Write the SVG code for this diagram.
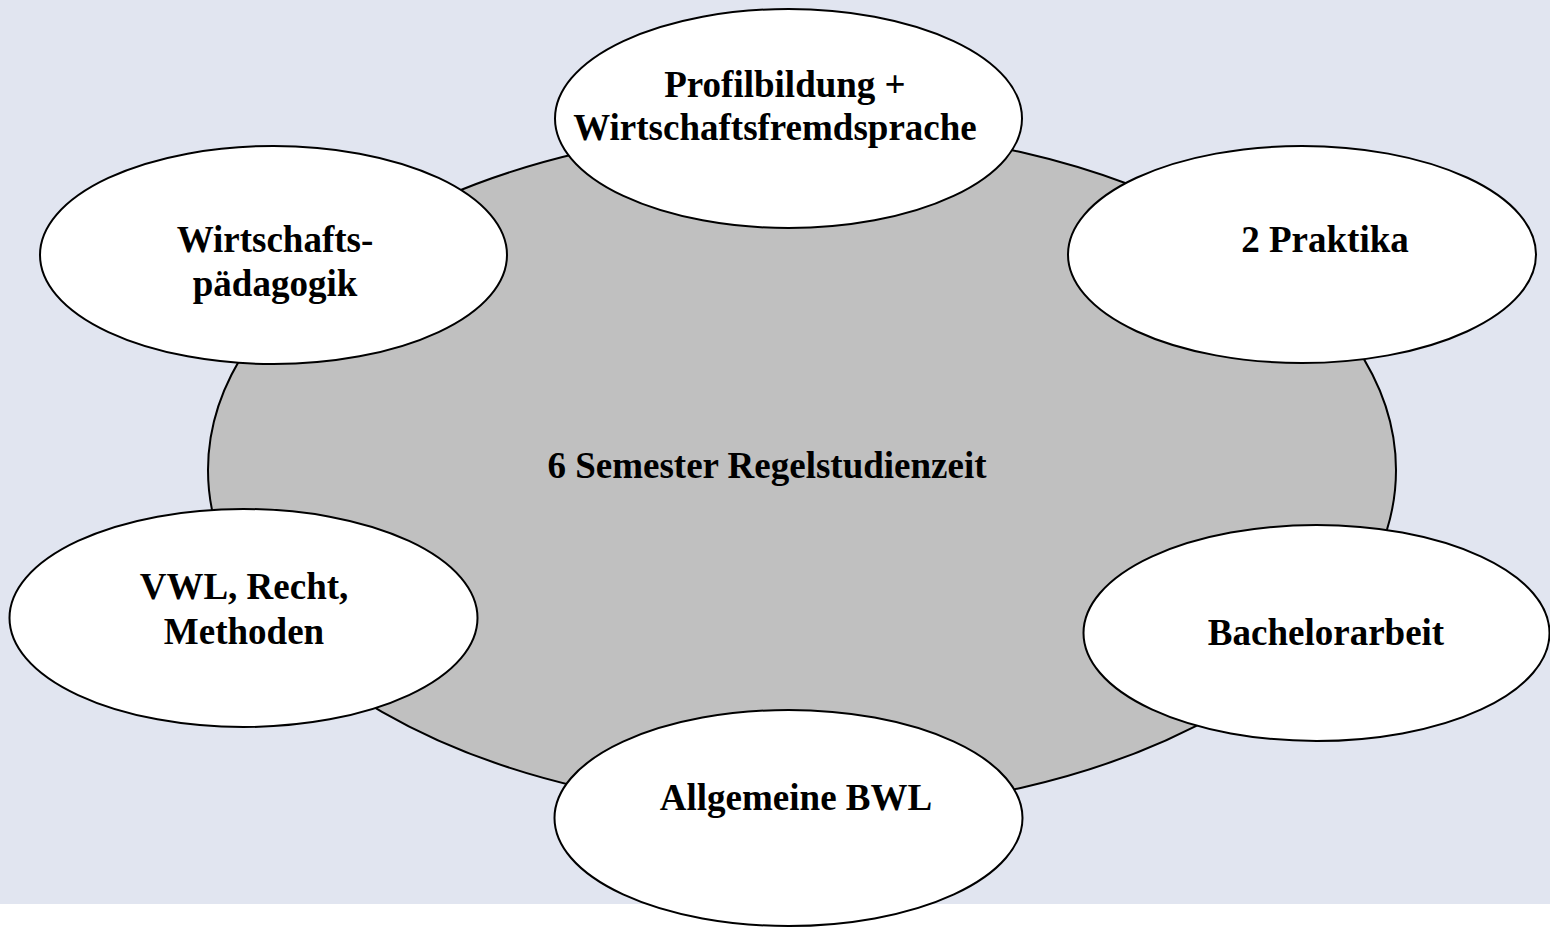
<svg xmlns="http://www.w3.org/2000/svg" width="1550" height="927" viewBox="0 0 1550 927">
<style>
.bg{fill:#e1e5f0}
.core{fill:#c0c0c0;stroke:#000;stroke-width:2}
.sat{fill:#fff;stroke:#000;stroke-width:2}
.t{font-family:"Liberation Serif","Times New Roman",serif;font-weight:bold;font-size:37px;fill:#000;text-anchor:middle}
</style>
<rect x="0" y="0" width="1550" height="927" fill="#fff"/>
<rect class="bg" x="0" y="0" width="1550" height="904"/>
<g id="connectors"></g>
<g id="core">
<ellipse class="core" cx="802" cy="470" rx="594" ry="342"/>
<text class="t" x="767" y="478">6 Semester Regelstudienzeit</text>
</g>
<g id="profil">
<ellipse class="sat" cx="788.5" cy="118.5" rx="233.5" ry="109.5"/>
<text class="t" x="785" y="97">Profilbildung +</text>
<text class="t" x="775" y="140">Wirtschaftsfremdsprache</text>
</g>
<g id="wipaed">
<ellipse class="sat" cx="273.5" cy="255" rx="233.5" ry="109"/>
<text class="t" x="275" y="252">Wirtschafts-</text>
<text class="t" x="275" y="296">pädagogik</text>
</g>
<g id="praktika">
<ellipse class="sat" cx="1302" cy="254.5" rx="234" ry="108.5"/>
<text class="t" x="1325" y="252">2 Praktika</text>
</g>
<g id="vwl">
<ellipse class="sat" cx="243.5" cy="618" rx="234" ry="109"/>
<text class="t" x="244" y="599">VWL, Recht,</text>
<text class="t" x="244" y="644">Methoden</text>
</g>
<g id="bachelor">
<ellipse class="sat" cx="1316.5" cy="633" rx="233" ry="108"/>
<text class="t" x="1326" y="645">Bachelorarbeit</text>
</g>
<g id="bwl">
<ellipse class="sat" cx="788.5" cy="818" rx="234" ry="108"/>
<text class="t" x="796" y="810">Allgemeine BWL</text>
</g>
</svg>
